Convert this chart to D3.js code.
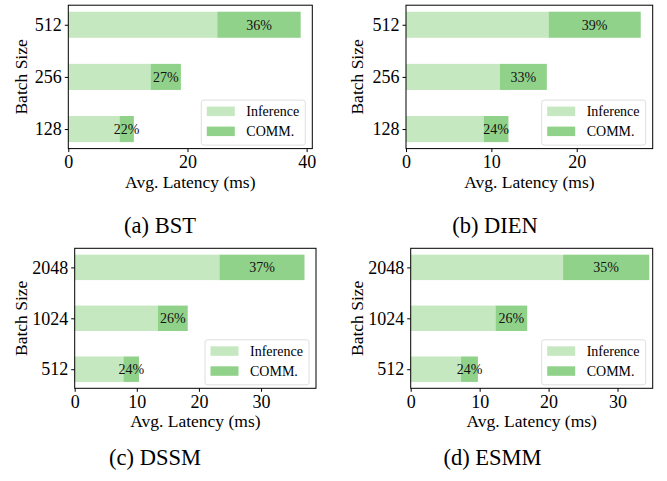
<!DOCTYPE html>
<html><head><meta charset="utf-8">
<script src="https://cdn.jsdelivr.net/npm/d3@7"></script>
<style>
body{margin:0;background:#fff;}
svg{display:block;}
svg text{font-family:"Liberation Serif","Times New Roman",serif;}
</style></head>
<body>
<svg id="c" width="667" height="481"></svg>
<script>
// ---- data ----
const panelNames = ["(a) BST", "(b) DIEN", "(c) DSSM", "(d) ESMM"];
const batchTop = ["128", "256", "512"];
const batchBottom = ["512", "1024", "2048"];
const bstInference = [8.6, 13.8, 25.0];
const bstComm = [2.4, 5.1, 14.0];
const bstPct = ["22%", "27%", "36%"];
const dienInference = [9.1, 11.0, 16.7];
const dienComm = [2.9, 5.5, 10.8];
const dienPct = ["24%", "33%", "39%"];
const dssmInference = [7.85, 13.4, 23.3];
const dssmComm = [2.5, 4.8, 13.7];
const dssmPct = ["24%", "26%", "37%"];
const esmmInference = [7.3, 12.3, 22.1];
const esmmComm = [2.45, 4.6, 12.5];
const esmmPct = ["24%", "26%", "35%"];
const xTicksA = [0, 20, 40];
const xTicksB = [0, 10, 20];
const xTicksCD = [0, 10, 20, 30];
const xMax = [40.95, 28.9, 38.85, 35.1];
const legendLabels = ["Inference", "COMM."];

const colInf = "#c6e8c0", colComm = "#91d28b";
const SERIF = "Liberation Serif, Times New Roman, serif";

const panels = [
  {name: panelNames[0], cats: batchTop, inf: bstInference, comm: bstComm, pct: bstPct, ticks: xTicksA, xmax: xMax[0],
   rect: {l: 68.3, r: 312.3, t: 5.2, b: 148.6}, px: 0, capX: 160, capY: 233},
  {name: panelNames[1], cats: batchTop, inf: dienInference, comm: dienComm, pct: dienPct, ticks: xTicksB, xmax: xMax[1],
   rect: {l: 406, r: 652.7, t: 5.2, b: 148.6}, px: 336.6, capX: 495, capY: 233},
  {name: panelNames[2], cats: batchBottom, inf: dssmInference, comm: dssmComm, pct: dssmPct, ticks: xTicksCD, xmax: xMax[2],
   rect: {l: 74.7, r: 316, t: 248.3, b: 388.3}, px: 0, capX: 155, capY: 465},
  {name: panelNames[3], cats: batchBottom, inf: esmmInference, comm: esmmComm, pct: esmmPct, ticks: xTicksCD, xmax: xMax[3],
   rect: {l: 410.7, r: 652.7, t: 248.3, b: 388.3}, px: 336.6, capX: 492.5, capY: 465}
];

const svg = d3.select("#c");

panels.forEach(p => {
  const R = p.rect;
  const g = svg.append("g").attr("font-family", SERIF);
  const x = d3.scaleLinear().domain([0, p.xmax]).range([R.l, R.r]);
  const y = d3.scaleLinear().domain([-0.375, 2.375]).range([R.b, R.t]);
  const hw = 0.25;
  const rows = p.cats.map((c, i) => ({c, i, inf: p.inf[i], comm: p.comm[i], pct: p.pct[i]}));

  g.selectAll(".inf").data(rows).join("rect")
    .attr("x", x(0)).attr("y", d => y(d.i + hw))
    .attr("width", d => x(d.inf) - x(0))
    .attr("height", d => y(d.i - hw) - y(d.i + hw))
    .attr("fill", colInf);
  g.selectAll(".comm").data(rows).join("rect")
    .attr("x", d => x(d.inf)).attr("y", d => y(d.i + hw))
    .attr("width", d => x(d.inf + d.comm) - x(d.inf))
    .attr("height", d => y(d.i - hw) - y(d.i + hw))
    .attr("fill", colComm);
  g.selectAll(".pct").data(rows).join("text")
    .attr("x", d => x(d.inf + d.comm / 2))
    .attr("y", d => y(d.i) + 5)
    .attr("text-anchor", "middle")
    .attr("font-family", SERIF)
    .attr("font-size", 14).attr("fill", "#111")
    .text(d => d.pct);

  g.append("rect").attr("x", R.l).attr("y", R.t)
    .attr("width", R.r - R.l).attr("height", R.b - R.t)
    .attr("fill", "none").attr("stroke", "#000").attr("stroke-width", 1);

  const xa = g.append("g").attr("transform", `translate(0,${R.b})`)
    .call(d3.axisBottom(x).tickValues(p.ticks).tickSize(3.5).tickPadding(3).tickFormat(d3.format("d")));
  xa.attr("font-family", SERIF);
  xa.select(".domain").remove();
  xa.selectAll("text").attr("font-size", 18).attr("font-family", SERIF).attr("fill", "#000");
  xa.selectAll("line").attr("stroke", "#000");

  const ya = g.append("g").attr("transform", `translate(${R.l},0)`)
    .call(d3.axisLeft(y).tickValues([0, 1, 2]).tickSize(3.5).tickPadding(3).tickFormat(i => p.cats[i]));
  ya.attr("font-family", SERIF);
  ya.select(".domain").remove();
  ya.selectAll("text").attr("font-size", 18).attr("font-family", SERIF).attr("fill", "#000");
  ya.selectAll("line").attr("stroke", "#000");

  g.append("text").attr("x", (R.l + R.r) / 2).attr("y", R.b + 39)
    .attr("text-anchor", "middle").attr("font-family", SERIF).attr("font-size", 17.5).text("Avg. Latency (ms)");
  g.append("text")
    .attr("transform", `translate(${p.px + 26.7},${(R.t + R.b) / 2}) rotate(-90)`)
    .attr("text-anchor", "middle").attr("font-family", SERIF).attr("font-size", 17.5).text("Batch Size");

  const lw = 104, lh = 45;
  const lx = R.r - 7 - lw, ly = R.b - 3.5 - lh;
  const lg = g.append("g").attr("transform", `translate(${lx},${ly})`);
  lg.append("rect").attr("width", lw).attr("height", lh).attr("rx", 2.5)
    .attr("fill", "#fff").attr("fill-opacity", 0.85).attr("stroke", "#d5d5d5").attr("stroke-width", 0.8);
  [colInf, colComm].forEach((c, k) => {
    lg.append("rect").attr("x", 5.5).attr("y", 6.5 + k * 20).attr("width", 28).attr("height", 9.5).attr("fill", c);
    lg.append("text").attr("x", 45).attr("y", 16 + k * 20).attr("font-family", SERIF)
      .attr("font-size", 14).text(legendLabels[k]);
  });

  svg.append("text").attr("x", p.capX).attr("y", p.capY)
    .attr("text-anchor", "middle").attr("font-family", SERIF).attr("font-size", 22.5).text(p.name);
});
</script>
</body></html>
